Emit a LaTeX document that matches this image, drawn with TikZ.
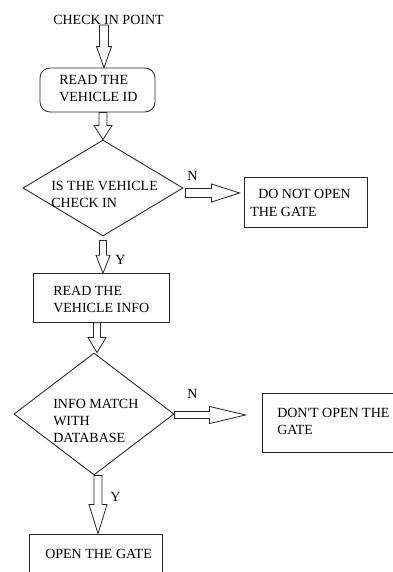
\documentclass[tikz,border=0pt]{standalone}
\usepackage{fontspec}
\setmainfont{Liberation Serif}
\usetikzlibrary{shapes.geometric,calc}

% one drawing unit = 0.75pt, y grows downwards
\def\px{0.75pt}

% hollow block arrow pointing down: from #1 to the tip #2
% #3 shaft half-width, #4 head half-width, #5 head length
\newcommand\vblock[5]{%
  \draw[blk] let \p1=#1, \p2=#2 in
    (\x2-#3*\px,\y1) -- (\x2-#3*\px,\y2+#5*\px) -- (\x2-#4*\px,\y2+#5*\px) -- (\p2)
    -- (\x2+#4*\px,\y2+#5*\px) -- (\x2+#3*\px,\y2+#5*\px) -- (\x2+#3*\px,\y1) -- cycle;}

% hollow block arrow pointing right: from #1 to the tip #2
\newcommand\hblock[5]{%
  \draw[blk] let \p1=#1, \p2=#2 in
    (\x1,\y2+#3*\px) -- (\x2-#5*\px,\y2+#3*\px) -- (\x2-#5*\px,\y2+#4*\px) -- (\p2)
    -- (\x2-#5*\px,\y2-#4*\px) -- (\x2-#5*\px,\y2-#3*\px) -- (\x1,\y2-#3*\px) -- cycle;}

\tikzset{
  shapeline/.style={draw=black!85, line width=0.65pt, inner sep=0pt},
  box/.style={shapeline, rectangle},
  rbox/.style={shapeline, rectangle, rounded corners=7.5pt},
  decision/.style={shapeline, diamond},
  blk/.style={draw=black!85, line width=0.6pt, fill=white},
  % placed at the baseline of the last line
  txt/.style={anchor=base west, inner sep=0pt, align=left,
    font=\fontsize{10.5pt}{12.75pt}\selectfont},
}

\begin{document}
\begin{tikzpicture}[x=0.75pt, y=-0.75pt]
\useasboundingbox (0,0) rectangle (393,572);
\clip (0,0) rectangle (393,572);
\fill[white] (0,0) rectangle (393,572);

% outlines
\node[rbox, minimum width=115*\px, minimum height=44*\px] (b1) at (97.5,90) {};
\node[decision, minimum width=160*\px, minimum height=96*\px] (d1) at (103,188) {};
\node[box, minimum width=123*\px, minimum height=50*\px] (b2) at (305.5,202) {};
\node[box, minimum width=136*\px, minimum height=48.5*\px] (b3) at (101,298) {};
\node[decision, minimum width=160*\px, minimum height=122*\px] (d2) at (94,414) {};
\node[box, minimum width=143*\px, minimum height=59*\px] (b4) at (333.5,422.5) {};
\node[box, minimum width=133*\px, minimum height=52*\px] (b5) at (95.5,560) {};

% texts
\node[txt] (t0) at (53,24) {CHECK IN POINT};
\node[txt] (t1) at (59,101) {READ THE\\VEHICLE ID};
\node[txt] (t2) at (51,207) {IS THE VEHICLE\\CHECK IN};
\node[txt, font=\fontsize{10.5pt}{13.5pt}\selectfont] (t3) at (250,216) {\hspace*{6pt}DO NOT OPEN\\THE GATE};
\node[txt] (t4) at (53,312) {READ THE\\VEHICLE INFO};
\node[txt] (t5) at (53,442) {INFO MATCH\\WITH\\DATABASE};
\node[txt] (t6) at (277,434) {DON\textquotesingle T OPEN THE\\GATE};
\node[txt] (t7) at (45,558) {OPEN THE GATE};
\node[txt] (n1) at (187,180) {N};
\node[txt] (n2) at (187,398) {N};
\node[txt] (y1) at (115,264) {Y};
\node[txt] (y2) at (110,501) {Y};

% connectors
\vblock{([yshift=-1*\px]t0.base)}{([xshift=6.5*\px]b1.north)}{4.5}{7.5}{21}
\vblock{(b1.south)}{(d1.north)}{4}{9}{14}
\vblock{([yshift=-4*\px]d1.south)}{([xshift=2*\px]b3.north)}{3.5}{7}{18}
\vblock{(b3.south)}{([xshift=3*\px]d2.north)}{3.5}{9}{15}
\vblock{(d2.south)}{([xshift=2.5*\px]b5.north)}{4}{9}{29}
\hblock{([xshift=2*\px]d1.east)}{([shift={(-4,-9)}]b2.west)}{4.5}{9}{28}
\hblock{(d2.east)}{([shift={(-16,-7.5)}]b4.west)}{3.5}{8.5}{36}
\end{tikzpicture}
\end{document}
